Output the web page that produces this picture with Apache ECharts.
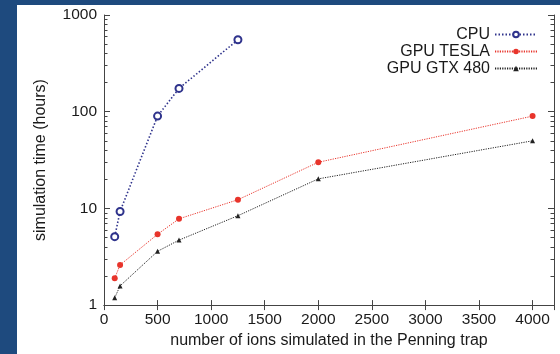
<!DOCTYPE html>
<html>
<head>
<meta charset="utf-8">
<script src="https://cdn.jsdelivr.net/npm/echarts@6/dist/echarts.min.js"></script>
<style>
html, body { margin: 0; padding: 0; background: #1e4a7e; width: 560px; height: 354px; overflow: hidden; }
#main { position: absolute; left: 17px; top: 5px; width: 543px; height: 349px; background: #fff; }
</style>
</head>
<body>
<div id="main"></div>
<script>
// ions simulated vs simulation time (hours)
var ions_cpu = [100, 150, 500, 700, 1250];
var time_cpu = [5.1, 9.3, 90, 174, 555];
var ions_gpu = [100, 150, 500, 700, 1250, 2000, 4000];
var time_tesla = [1.9, 2.6, 5.4, 7.8, 12.3, 30, 90];
var time_gtx = [1.19, 1.58, 3.6, 4.7, 8.4, 20.2, 50];
var yMinor = [2, 3, 4, 5, 6, 7, 8, 9, 20, 30, 40, 50, 60, 70, 80, 90, 200, 300, 400, 500, 600, 700, 800, 900];

var font = 'Liberation Sans';
var axisCol = '#444';
var txtCol = '#1a1a1a';

function pairs(xs, ys) {
    return xs.map(function (x, i) { return [x, ys[i]]; });
}

// frame axis (log) on either side
function yAx(pos, extra) {
    var a = {
        type: 'log', logBase: 10, min: 1, max: 1000, position: pos,
        axisLine: { show: true, lineStyle: { color: axisCol, width: 1 } },
        axisTick: { show: true, inside: true, length: 6, lineStyle: { color: axisCol } },
        axisLabel: { show: false },
        splitLine: { show: false }
    };
    return Object.assign(a, extra || {});
}
// minor ticks 2..9 per decade, on an axis running in decades (0..3)
function yMinorAx(pos) {
    return {
        type: 'value', min: 0, max: 3, position: pos,
        axisLine: { show: false },
        axisTick: {
            show: true, inside: true, length: 3.5, lineStyle: { color: axisCol },
            customValues: yMinor.map(function (v) { return Math.log10(v); })
        },
        axisLabel: { show: false },
        splitLine: { show: false }
    };
}

var chart = echarts.init(document.getElementById('main'));
var option = {
    animation: false,
    textStyle: { fontFamily: font },
    grid: { left: 87, right: 6, top: 10, bottom: 47 },
    legend: {
        data: ['CPU', 'GPU TESLA', 'GPU GTX 480'],
        orient: 'vertical',
        align: 'right',
        right: 22,
        top: 21,
        padding: 0,
        itemWidth: 42,
        itemHeight: 7,
        itemGap: 0,
        textStyle: { fontFamily: font, fontSize: 16, color: txtCol, lineHeight: 17 }
    },
    xAxis: [
        {
            type: 'value', min: 0, max: 4200, interval: 500, position: 'bottom',
            name: 'number of ions simulated in the Penning trap',
            nameLocation: 'middle', nameGap: 22,
            nameTextStyle: { fontFamily: font, fontSize: 16, color: txtCol },
            axisLine: { lineStyle: { color: axisCol } },
            axisTick: { inside: true, length: 5, lineStyle: { color: axisCol } },
            axisLabel: { fontFamily: font, fontSize: 15.5, color: txtCol, margin: 7, showMaxLabel: false,
                formatter: function (v) { return String(v); } },
            splitLine: { show: false }
        },
        {
            type: 'value', min: 0, max: 4200, interval: 500, position: 'top',
            axisLine: { lineStyle: { color: axisCol } },
            axisTick: { inside: true, length: 5, lineStyle: { color: axisCol } },
            axisLabel: { show: false },
            splitLine: { show: false }
        }
    ],
    yAxis: [
        yAx('left', {
            name: 'simulation time (hours)',
            nameLocation: 'middle', nameGap: 55, nameRotate: 90,
            nameTextStyle: { fontFamily: font, fontSize: 16, color: txtCol },
            axisLabel: { show: true, fontFamily: font, fontSize: 15.5, color: txtCol, margin: 7,
                formatter: function (v) { return String(v); } }
        }),
        yMinorAx('left'),
        yAx('right'),
        yMinorAx('right')
    ],
    series: [
        {
            name: 'CPU', type: 'line',
            data: pairs(ions_cpu, time_cpu),
            symbol: 'emptyCircle', symbolSize: 7,
            lineStyle: { color: '#2f338c', width: 1.6, type: [1.5, 2] },
            itemStyle: { color: '#2f338c', borderWidth: 2 }
        },
        {
            name: 'GPU TESLA', type: 'line',
            data: pairs(ions_gpu, time_tesla),
            symbol: 'circle', symbolSize: 6,
            lineStyle: { color: '#e8342b', width: 1, type: [1.2, 1.2] },
            itemStyle: { color: '#e8342b' }
        },
        {
            name: 'GPU GTX 480', type: 'line',
            data: pairs(ions_gpu, time_gtx),
            symbol: 'triangle', symbolSize: 5,
            lineStyle: { color: '#222', width: 1, type: [1.2, 1.2] },
            itemStyle: { color: '#222' }
        }
    ]
};
chart.setOption(option);
</script>
</body>
</html>
